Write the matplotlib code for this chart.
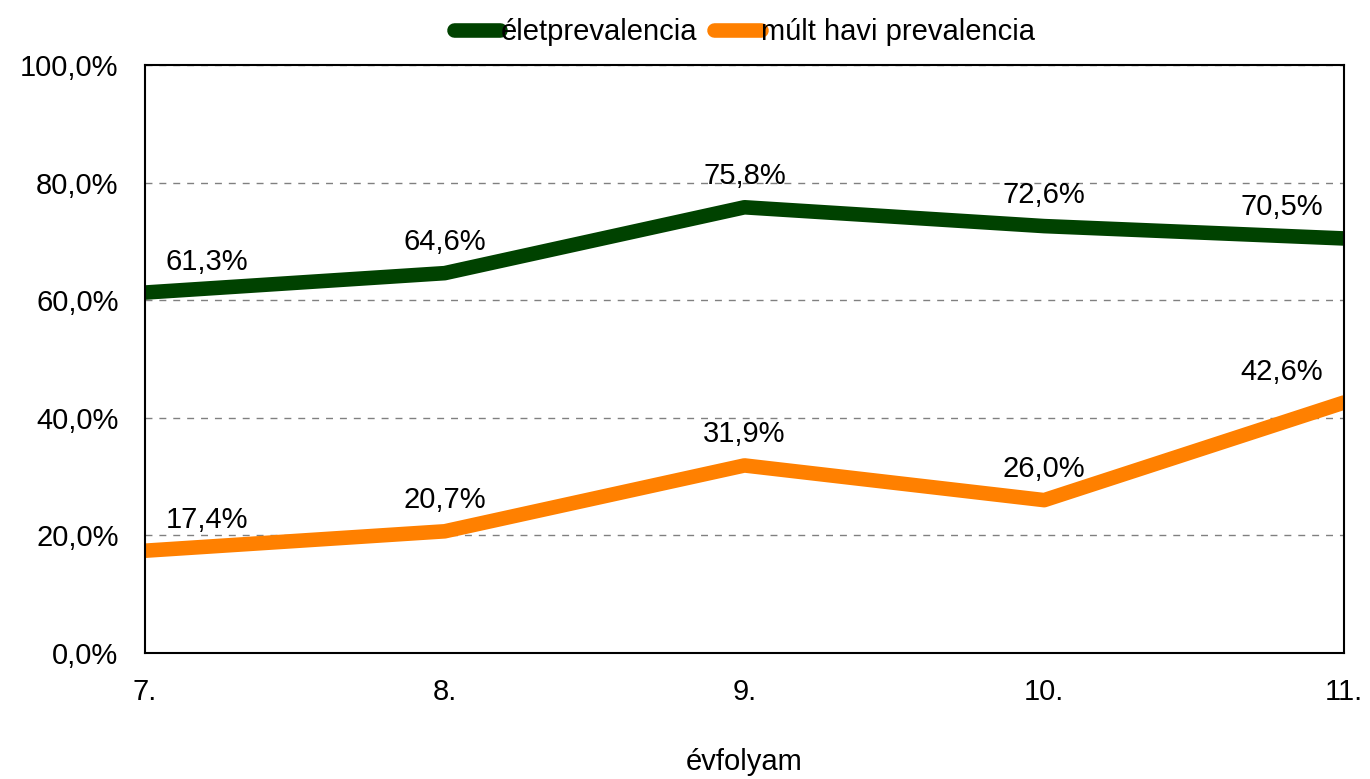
import matplotlib
matplotlib.use("Agg")
import matplotlib.pyplot as plt

categories = ["7.", "8.", "9.", "10.", "11."]
elet = [61.3, 64.6, 75.8, 72.6, 70.5]
mult = [17.4, 20.7, 31.9, 26.0, 42.6]
yticks = [0, 20, 40, 60, 80, 100]

plt.rcParams["font.family"] = ["Liberation Sans", "DejaVu Sans"]

fig = plt.figure(figsize=(13.7, 7.79), dpi=100)
ax = fig.add_axes([0.1058, 0.1617, 0.8752, 0.7549])

x = list(range(len(categories)))
ax.plot(x, elet, color="#004200", lw=10.5, solid_capstyle="round", solid_joinstyle="round", label="életprevalencia")
ax.plot(x, mult, color="#FF8000", lw=10.5, solid_capstyle="round", solid_joinstyle="round", label="múlt havi prevalencia")

def fmt(v):
    return f"{v:.1f}%".replace(".", ",")

# data labels above the points, first/last pushed inward
offs = [62, 0, 0, 0, -62]
for i in x:
    ax.annotate(fmt(elet[i]), (i, elet[i]), xytext=(offs[i], 31), textcoords="offset pixels",
                ha="center", va="center", fontsize=21)
    ax.annotate(fmt(mult[i]), (i, mult[i]), xytext=(offs[i], 31), textcoords="offset pixels",
                ha="center", va="center", fontsize=21)

ax.set_xlim(0, 4)
ax.set_ylim(0, 100)
ax.set_xticks(x)
ax.set_xticklabels(categories)
ax.set_yticks(yticks)
ax.set_yticklabels([fmt(v) for v in yticks])
ax.tick_params(axis="y", length=0, labelsize=21, pad=19)
ax.tick_params(axis="x", length=0, labelsize=21, pad=18)
ax.grid(axis="y", color="#808080", ls=(0, (5, 5)), lw=1)
for s in ax.spines.values():
    s.set_linewidth(1.5)
ax.set_xlabel("évfolyam", fontsize=21, labelpad=30)

ax.legend(loc="lower center", bbox_to_anchor=(0.5, 1.0), ncol=2, frameon=False, fontsize=21,
          handlelength=1.6, handletextpad=0.0, columnspacing=0.6, borderaxespad=0.25)

fig.savefig("out.png", dpi=100)
